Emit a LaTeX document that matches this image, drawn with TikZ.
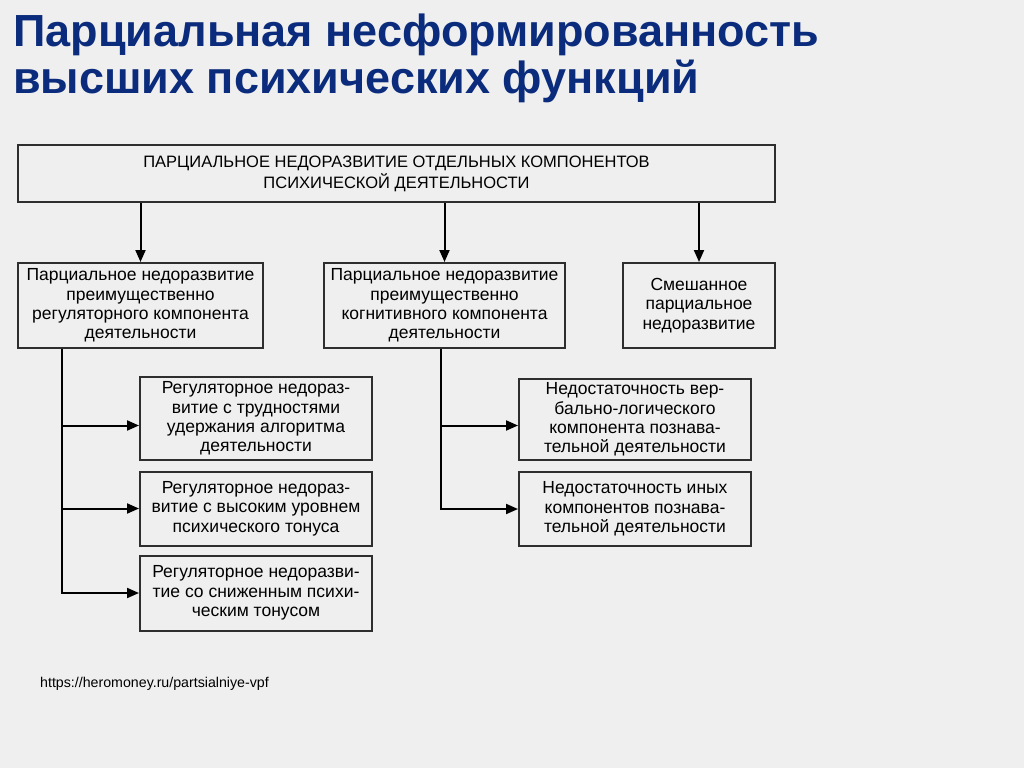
\documentclass[tikz,border=0pt]{standalone}
\usepackage{fontspec}
\setmainfont{Liberation Sans}
\usetikzlibrary{arrows.meta, positioning}
\definecolor{slidebg}{HTML}{EFEFEF}
\definecolor{titleblue}{HTML}{0B2C7C}
\definecolor{boxline}{HTML}{2E2E2E}
\tikzset{
  headbox/.style={
    draw=boxline, line width=2pt, fill=slidebg, align=center,
    minimum height=57pt, minimum width=757pt, inner sep=2pt,
    font=\fontsize{16.5}{21}\selectfont
  },
  groupbox/.style={
    draw=boxline, line width=2pt, fill=slidebg, align=center,
    minimum height=85pt, inner sep=2pt,
    font=\fontsize{17.5}{19.3}\selectfont
  },
  subbox/.style={
    draw=boxline, line width=2pt, fill=slidebg, align=center,
    minimum width=232pt, inner sep=2pt,
    font=\fontsize{17.5}{19.3}\selectfont
  },
  linkarrow/.style={-{Triangle[length=12pt, width=10pt]}, line width=2pt, color=black},
  titletext/.style={text=titleblue, align=left, inner sep=0pt, font=\fontsize{45}{47}\selectfont\bfseries},
  sourcetext/.style={inner sep=0pt, font=\fontsize{14.2}{16}\selectfont},
}

\begin{document}
\begin{tikzpicture}[x=1pt, y=-1pt]
  \fill[slidebg] (0,0) rectangle (1024,768);
  \useasboundingbox (0,0) rectangle (1024,768);

  \node[titletext, anchor=north west] (title) at (13,14) {Парциальная несформированность\\высших психических функций};

  % header
  \node[headbox] (top) at (396.5,173.5) {ПАРЦИАЛЬНОЕ НЕДОРАЗВИТИЕ ОТДЕЛЬНЫХ КОМПОНЕНТОВ\\ПСИХИЧЕСКОЙ ДЕЯТЕЛЬНОСТИ};

  % second row
  \node[groupbox, minimum width=245pt] (regA) at (140.5,305.5) {Парциальное недоразвитие\\преимущественно\\регуляторного компонента\\деятельности};
  \node[groupbox, minimum width=241pt] (cogB) at (444.5,305.5) {Парциальное недоразвитие\\преимущественно\\когнитивного компонента\\деятельности};
  \node[groupbox, minimum width=152pt] (mixC) at (699,305.5) {Смешанное\\парциальное\\недоразвитие};

  % regulatory branch
  \node[subbox, minimum height=83pt] (reg1) at (256,418.5) {Регуляторное недораз-\\витие с трудностями\\удержания алгоритма\\деятельности};
  \node[subbox, minimum height=74pt] (reg2) at (256,508.5) {Регуляторное недораз-\\витие с высоким уровнем\\психического тонуса};
  \node[subbox, minimum height=75pt] (reg3) at (256,593) {Регуляторное недоразви-\\тие со сниженным психи-\\ческим тонусом};

  % cognitive branch
  \node[subbox, minimum height=81pt] (cog1) at (635,419.5) {Недостаточность вер-\\бально-логического\\компонента познава-\\тельной деятельности};
  \node[subbox, minimum height=74pt] (cog2) at (635,509) {Недостаточность иных\\компонентов познава-\\тельной деятельности};

  \node[sourcetext, anchor=base west] (source) at (40,687) {https://heromoney.ru/partsialniye-vpf};

  \coordinate (regtrunk) at (62,0);
  \coordinate (cogtrunk) at (441,0);

  \draw[linkarrow] (top.south -| regA.north) -- (regA.north);
  \draw[linkarrow] (top.south -| cogB.north) -- (cogB.north);
  \draw[linkarrow] (top.south -| mixC.north) -- (mixC.north);

  \draw[linkarrow] (regA.south -| regtrunk) |- ([yshift=-7pt]reg1.west);
  \draw[linkarrow] (regA.south -| regtrunk) |- (reg2.west);
  \draw[linkarrow] (regA.south -| regtrunk) |- (reg3.west);

  \draw[linkarrow] (cogB.south -| cogtrunk) |- ([yshift=-6pt]cog1.west);
  \draw[linkarrow] (cogB.south -| cogtrunk) |- (cog2.west);
\end{tikzpicture}
\end{document}
